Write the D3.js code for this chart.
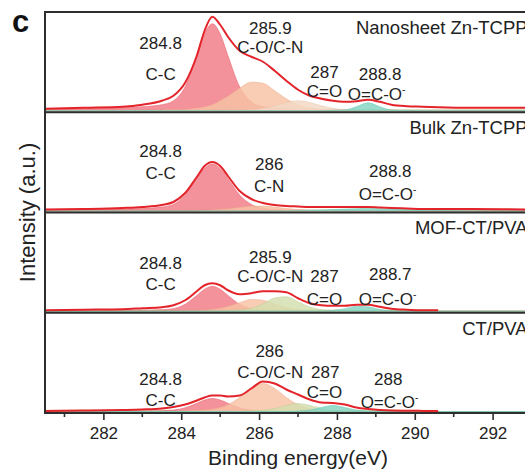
<!DOCTYPE html>
<html><head><meta charset="utf-8">
<script src="https://cdn.jsdelivr.net/npm/d3@7"></script>
<style>html,body{margin:0;padding:0;background:#fff;}svg{display:block;font-family:"Liberation Sans",Arial,sans-serif;}</style>
</head><body><svg id="c" width="525" height="472"></svg>
<script>
// ---------------- data ----------------
const energy = [280.5,281.5,282.5,283,283.5,283.8,284.1,284.4,284.6,284.8,285,285.2,285.5,285.8,286.1,286.4,286.7,287,287.3,287.6,287.9,288.2,288.5,288.8,289.1,289.4,289.8,290.2,290.6,291.5,293,293.5];
const panelNames = ["Nanosheet Zn-TCPP","Bulk Zn-TCPP","MOF-CT/PVA","CT/PVA"];
const xTicks = [282,284,286,288,290,292];
const xMinorTicks = [281,283,285,287,289,291,293];

// Nanosheet Zn-TCPP
const nanoEnv = [2,3,4,6,10,15,28,55,80,94,86,74,60,54,49,40,30,21,15,12,10,9,9.5,11,9,6,4.5,4,3.5,3,3,3];
const nanoCC  = [1.5,2,3,4,6,10,24,55,77,87,77,55,24,9,4,3,2,1.5,1,1,1,0.5,0.5,0.5,0.5,0.5,0,0,0,0,0,0];
const nanoCO  = [0,0,0,0,0.7,0.9,1.3,2.5,3.8,6,10,14.5,22.6,28.6,27.5,20,12,6,3,1.6,1,0.7,0.5,0.5,0.3,0.3,0,0,0,0,0,0];
const nanoCdO = [0,0,0,0,0,0,0,0,0,0,0,0,0.5,1,2.4,5,8.3,10,8.3,5,2.4,1,0.5,0.3,0,0,0,0,0,0,0,0];
const nanoOCO = [0,0,0,0,0,0,0,0,0,0,0,0,0,0,0,0,0,0,0,0,0.4,0.8,4,8,4,0.8,0.3,0,0,0,0,0];
// Bulk Zn-TCPP
const bulkEnv = [1.5,2,3,4,6,9,18,34,45,49,45,35,20,12,8,6,5,4.5,4,4,4,4,4,4,3.5,3,2.5,2,2,2,1.5,1.5];
const bulkCC  = [1,1.5,2,2.5,4,6.6,16,32.5,42.5,47,42.5,32.5,16,6.6,2.8,1.6,1.1,0.8,0.5,0.5,0.3,0,0,0,0,0,0,0,0,0,0,0];
const bulkCN  = [0,0,0,0,0,0,0,0,0.5,0.9,1.4,2.1,3.5,4.7,4.9,3.9,2.5,1.4,0.65,0.4,0.3,0,0,0,0,0,0,0,0,0,0,0];
const bulkOCO = [0,0,0,0,0,0,0,0,0,0,0,0,0,0,0,0,0,0.3,0.6,1,1.4,1.9,2.3,2.5,2.3,1.9,1.2,0.7,0.4,0,0,0];
// MOF-CT/PVA
const mofEnv = [1,1.5,2,3,4,6,11,20,26,28,26,21,17,18,20,20,19,13,8,6,5.5,5.5,6.5,6.5,4.5,2.5,1.5,1,1,null,null,null];
const mofCC  = [0.5,0.5,0.8,1,1.5,2.6,7,15.8,22,25,22,15.8,7,2.6,1.4,0.8,0.5,0.3,0,0,0,0,0,0,0,0,0,0,0,0,0,0];
const mofCO  = [0,0,0,0,0,0,0.4,0.6,1,1.7,2.9,4.8,8.6,11.8,11,7.3,3.6,1.7,0.7,0.4,0,0,0,0,0,0,0,0,0,0,0,0];
const mofCdO = [0,0,0,0,0,0,0,0,0,0,0,0.5,1.2,3,7.5,13.3,14.5,9.5,4.2,1.6,0.7,0.4,0,0,0,0,0,0,0,0,0,0];
const mofOCO = [0,0,0,0,0,0,0,0,0,0,0,0,0,0,0,0,0,0,0,0.3,0.8,2.5,4.8,4.4,1.8,0.5,0.2,0,0,0,0,0];
// CT/PVA
const ctEnv = [0.5,1,1.5,2,3,4.5,7,11,14,16,16,15,16,23,30,28,22,17,12,9,8.5,7,4,2.5,1.5,1,0.8,0.6,0.5,null,null,null];
const ctCC  = [0.3,0.3,0.4,0.5,0.8,1.4,3.7,8.2,11.5,13,11.5,8.2,3.7,1.4,0.7,0.4,0.2,0,0,0,0,0,0,0,0,0,0,0,0,0,0,0];
const ctCO  = [0,0,0,0,0,0,0.7,1.1,1.4,2.3,3.9,6.8,14,23,28,23,14,6.8,2.9,1.4,0.9,0.6,0.4,0,0,0,0,0,0,0,0,0];
const ctCdO = [0,0,0,0,0,0,0,0,0,0,0,0,0,0.5,1.2,3,6.1,8,6.1,3,1.2,0.5,0,0,0,0,0,0,0,0,0,0];
const ctOCO = [0,0,0,0,0,0,0,0,0,0,0,0,0,0,0,0,0,0.5,1.4,4,6,4,1.4,0.5,0.2,0,0,0,0,0,0,0];

const backgroundLevel = [1.8,1.8,1.8,1.8];

const panels = [
  {name: panelNames[0], env: nanoEnv, comps: [["CC",nanoCC],["CO",nanoCO],["CdOlight",nanoCdO],["OCO",nanoOCO]]},
  {name: panelNames[1], env: bulkEnv, comps: [["CC",bulkCC],["CO",bulkCN],["OCO",bulkOCO]]},
  {name: panelNames[2], env: mofEnv, comps: [["CC",mofCC],["CO",mofCO],["CdO",mofCdO],["OCO",mofOCO]]},
  {name: panelNames[3], env: ctEnv, comps: [["CC",ctCC],["CO",ctCO],["CdO",ctCdO],["OCO",ctOCO]]}
];

// peak annotations: [panel, text, energy, intensity, superscript?]
const labels = [
  [0,"284.8",283.47,62],[0,"C-C",283.47,31],[0,"285.9",286.29,77],[0,"C-O/C-N",286.29,58],
  [0,"287",287.68,33],[0,"C=O",287.68,14],[0,"288.8",289.11,31],[0,"O=C-O",289.02,11,true],
  [1,"284.8",283.47,54],[1,"C-C",283.47,32],[1,"286",286.26,41],[1,"C-N",286.26,19],
  [1,"288.8",289.37,34],[1,"O=C-O",289.3,11,true],
  [2,"284.8",283.47,42],[2,"C-C",283.47,21],[2,"285.9",286.29,48],[2,"C-O/C-N",286.29,29],
  [2,"287",287.68,29],[2,"C=O",287.68,6],[2,"288.7",289.37,31],[2,"O=C-O",289.3,6,true],
  [3,"284.8",283.47,26.5],[3,"C-C",283.47,5.5],[3,"286",286.27,54.5],[3,"C-O/C-N",286.29,33.5],
  [3,"287",287.7,33.5],[3,"C=O",287.68,13.5],[3,"288",289.32,26.5],[3,"O=C-O",289.35,3.5,true]
];

// ---------------- drawing ----------------
const svg = d3.select("#c");
const W = 525, H = 472;
const mLeft = 45, mRight = 551, mTop = 12, mBottom = 413;
const x = d3.scaleLinear().domain([280.5, 293.5]).range([mLeft, mRight]);
const panelEdge = d3.scaleLinear().domain([0, 4]).range([mTop, mBottom]);

const colors = {CC:"#f27a86", CO:"#f6c2a4", CdO:"#d3dfae", CdOlight:"#f3d9c4", OCO:"#84d6c3"};
const strokes = {CC:"#ea5f6c", CO:"#eeb08e", CdO:"#c0cf98", CdOlight:"#e9c8ae", OCO:"#6cc8b3"};
const font = '"Liberation Sans", Arial, sans-serif';

const defs = svg.append("defs");

panels.forEach((p, i) => {
  const pt = panelEdge(i), pb = panelEdge(i + 1);
  const base = pb - 1.5;
  const y = d3.scaleLinear().domain([0, 100]).range([base, base - 100]);
  defs.append("clipPath").attr("id", "clip" + i)
    .append("rect").attr("x", mLeft).attr("y", pt).attr("width", W - mLeft).attr("height", pb - pt);
  const g = svg.append("g").attr("clip-path", `url(#clip${i})`);

  // background strip
  const lastE = p.env[p.env.length - 1] == null ? 290.6 : energy[energy.length - 1];
  g.append("path")
    .datum(energy.filter(e => e <= lastE))
    .attr("d", d3.area().x(e => x(e)).y0(y(0) + 1.5).y1(y(backgroundLevel[i])))
    .attr("fill", "#dfe4c8");

  const area = d3.area().curve(d3.curveMonotoneX)
    .x((d, k) => x(energy[k])).y0(y(0)).y1(d => y(d));
  p.comps.forEach(([type, vals]) => {
    g.append("path").datum(vals).attr("d", area)
      .attr("fill", colors[type]).attr("fill-opacity", 0.82)
      .attr("stroke", strokes[type]).attr("stroke-width", 0.8).attr("stroke-opacity", 0.7);
  });

  const line = d3.line().curve(d3.curveMonotoneX)
    .defined(d => d != null)
    .x((d, k) => x(energy[k])).y(d => y(d));
  g.append("path").datum(p.env).attr("d", line)
    .attr("fill", "none").attr("stroke", "#e3242b").attr("stroke-width", 2);

  // panel name
  svg.append("text").attr("x", x(292.9)).attr("y", y(77))
    .attr("text-anchor", "end").attr("font-size", 18.5).attr("fill", "#222")
    .text(p.name);

  // annotations
  labels.filter(l => l[0] === i).forEach(l => {
    const t = svg.append("text").attr("x", x(l[2])).attr("y", y(l[3]))
      .attr("text-anchor", "middle").attr("font-size", 17).attr("fill", "#222").text(l[1]);
    if (l[4]) t.append("tspan").attr("dy", -7).attr("font-size", 10).text("-");
  });

  // separators
  svg.append("line").attr("x1", mLeft).attr("x2", W).attr("y1", pb).attr("y2", pb)
    .attr("stroke", "#2e2e2e").attr("stroke-width", 2);
});

// top frame and left spine
svg.append("line").attr("x1", mLeft).attr("x2", W).attr("y1", mTop).attr("y2", mTop)
  .attr("stroke", "#2e2e2e").attr("stroke-width", 2);
svg.append("line").attr("x1", mLeft).attr("x2", mLeft).attr("y1", mTop - 1).attr("y2", mBottom + 1)
  .attr("stroke", "#2e2e2e").attr("stroke-width", 2);

// x axis
const ax = svg.append("g").attr("transform", `translate(0,${mBottom})`)
  .call(d3.axisBottom(x).tickValues(xTicks).tickSize(7).tickPadding(7).tickFormat(d3.format("d")));
ax.select(".domain").remove();
ax.selectAll("line").attr("stroke", "#2e2e2e").attr("stroke-width", 1.6);
ax.selectAll("text").attr("font-size", 17).attr("fill", "#222").attr("font-family", font);
svg.append("g").attr("transform", `translate(0,${mBottom})`)
  .selectAll("line").data(xMinorTicks).join("line")
  .attr("x1", d => x(d)).attr("x2", d => x(d)).attr("y1", 0).attr("y2", 4)
  .attr("stroke", "#2e2e2e").attr("stroke-width", 1.6);

// titles
svg.append("text").attr("x", (mLeft + mRight) / 2).attr("y", 465)
  .attr("text-anchor", "middle").attr("font-size", 21).attr("fill", "#222")
  .text("Binding energy(eV)");
svg.append("text").attr("transform", `translate(35,${(mTop + mBottom) / 2}) rotate(-90)`)
  .attr("text-anchor", "middle").attr("font-size", 22).attr("fill", "#222")
  .text("Intensity (a.u.)");
svg.append("text").attr("x", 12).attr("y", 32).attr("font-size", 31).attr("font-weight", "bold")
  .attr("fill", "#111").text("c");
</script></body></html>
